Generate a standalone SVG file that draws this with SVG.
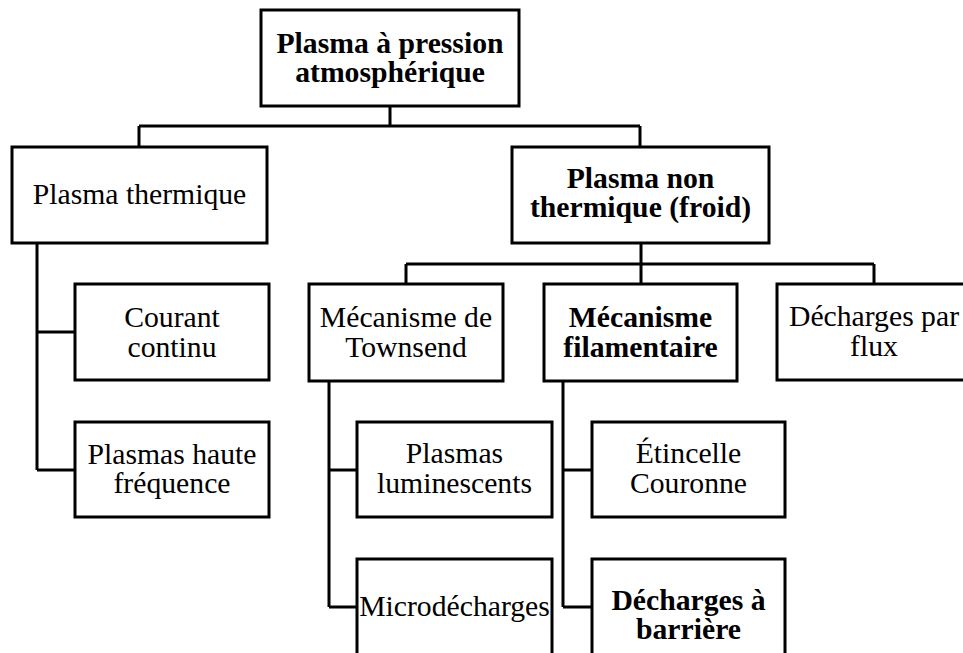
<svg xmlns="http://www.w3.org/2000/svg" width="963" height="653" viewBox="0 0 963 653">
<style>
.box{fill:#fff;stroke:#000;stroke-width:3}
.ln{fill:none;stroke:#000;stroke-width:3}
text{font-family:"Liberation Serif","Times New Roman",serif;font-size:29.7px;fill:#000;text-anchor:middle}
.b{font-weight:bold}
</style>
<rect width="963" height="653" fill="#fff"/>
<g id="connectors">
<path class="ln" d="M390,106V126M139,126H640M139,126V147M640,126V147"/>
<path class="ln" d="M37,243V470M37,332H75M37,470H75"/>
<path class="ln" d="M641,243V264M406,264H874M406,264V284M641,264V284M874,264V284"/>
<path class="ln" d="M329,381V607M329,470H357M329,607H357"/>
<path class="ln" d="M563,381V607M563,470H592M563,607H592"/>
</g>
<g id="n-root"><rect class="box" x="261" y="10" width="258" height="96"/><text class="b" x="390" y="53">Plasma à pression</text><text class="b" x="390" y="82">atmosphérique</text></g>
<g id="n-thermique"><rect class="box" x="12" y="147" width="255" height="96"/><text x="139.5" y="204">Plasma thermique</text></g>
<g id="n-nonthermique"><rect class="box" x="512" y="147" width="257" height="96"/><text class="b" x="640.5" y="188">Plasma non</text><text class="b" x="640.5" y="217">thermique (froid)</text></g>
<g id="n-courant"><rect class="box" x="75" y="284" width="194" height="96"/><text x="172" y="327">Courant</text><text x="172" y="357">continu</text></g>
<g id="n-hf"><rect class="box" x="75" y="422" width="194" height="95"/><text x="172" y="464">Plasmas haute</text><text x="172" y="493">fréquence</text></g>
<g id="n-townsend"><rect class="box" x="309" y="284" width="194" height="97"/><text x="406" y="327">Mécanisme de</text><text x="406" y="357">Townsend</text></g>
<g id="n-filamentaire"><rect class="box" x="544" y="284" width="193" height="97"/><text class="b" x="640.5" y="327">Mécanisme</text><text class="b" x="640.5" y="357">filamentaire</text></g>
<g id="n-flux"><rect class="box" x="777" y="284" width="194" height="96"/><text x="874" y="326">Décharges par</text><text x="874" y="356">flux</text></g>
<g id="n-luminescents"><rect class="box" x="357" y="422" width="195" height="95"/><text x="454.5" y="463">Plasmas</text><text x="454.5" y="493">luminescents</text></g>
<g id="n-micro"><rect class="box" x="357" y="559" width="195" height="100"/><text x="454.5" y="616">Microdécharges</text></g>
<g id="n-etincelle"><rect class="box" x="592" y="422" width="193" height="95"/><text x="688.5" y="463">Étincelle</text><text x="688.5" y="493">Couronne</text></g>
<g id="n-barriere"><rect class="box" x="592" y="559" width="193" height="100"/><text class="b" x="688.5" y="610">Décharges à</text><text class="b" x="688.5" y="639">barrière</text></g>
</svg>
